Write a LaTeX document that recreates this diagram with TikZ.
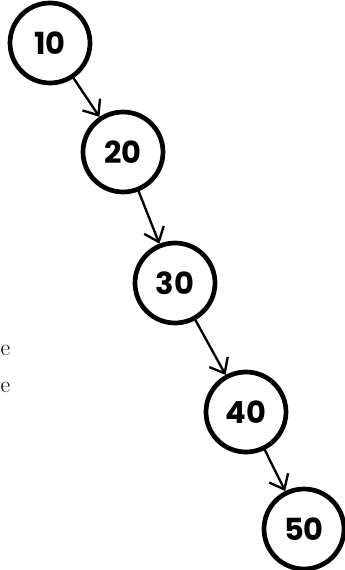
\documentclass[tikz,border=0pt]{standalone}
\usepackage{fontspec}
\newfontfamily\handfont{Poppins}
\usetikzlibrary{arrows.meta}

\begin{document}
\begin{tikzpicture}[x=0.03cm, y=-0.03cm]
    \tikzstyle{keynode} = [circle, draw, line width=4pt, minimum size=2.4cm,
                           inner sep=0pt, font=\handfont\bfseries\fontsize{26}{30}\selectfont]
    \tikzstyle{link} = [-{Straight Barb[length=11pt, width=18pt, line width=2pt]},
                        line width=2pt, shorten <=-1pt]
    \tikzstyle{cut} = [anchor=base west, inner sep=0pt, font=\fontsize{20}{24}\selectfont]

    \useasboundingbox (0,0) rectangle (345,570);

    % the chain of keys
    \node [keynode] (k10) at (50,43)   {10};
    \node [keynode] (k20) at (123,152) {20};
    \node [keynode] (k30) at (175,283) {30};
    \node [keynode] (k40) at (246,412) {40};
    \node [keynode] (k50) at (304,529) {50};

    \draw [link] (k10) -- (k20);
    \draw [link] (k20) -- (k30);
    \draw [link] (k30) -- (k40);
    \draw [link] (k40) -- (k50);

    % text at the left edge
    \node [cut] (txta) at (0.5,355) {e};
    \node [cut] (txtb) at (0.5,392) {e};
\end{tikzpicture}
\end{document}
